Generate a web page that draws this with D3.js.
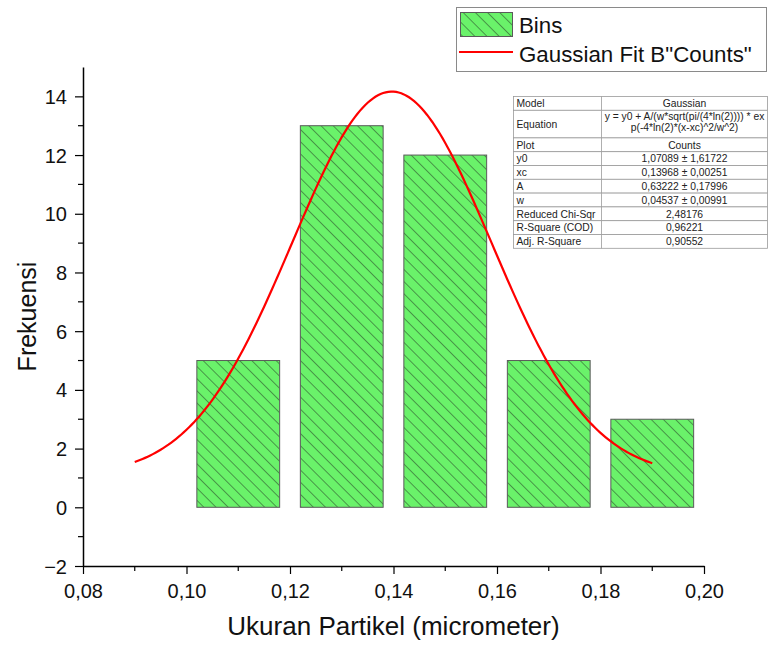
<!DOCTYPE html>
<html>
<head>
<meta charset="utf-8">
<script src="https://cdn.jsdelivr.net/npm/d3@7/dist/d3.min.js"></script>
<style>
  html, body { margin: 0; padding: 0; background: #fff; }
  svg { display: block; font-family: "Liberation Sans", Arial, sans-serif; }
</style>
</head>
<body>
<svg id="chart" width="768" height="648"></svg>
<script>
// Histogram bins (centre, count) and bin width
const binCenters = [0.11, 0.13, 0.15, 0.17, 0.19];
const binCounts = [5, 13, 12, 5, 3];
const barWidth = 0.016;

// Gaussian fit parameters: [name, value, error]
const fitParams = [
  ["y0", 1.07089, 1.61722],
  ["xc", 0.13968, 0.00251],
  ["A", 0.63222, 0.17996],
  ["w", 0.04537, 0.00991]
];
const fitRange = [0.09, 0.19];
const fitStats = [
  ["Reduced Chi-Sqr", "2,48176"],
  ["R-Square (COD)", "0,96221"],
  ["Adj. R-Square", "0,90552"]
];

const xTicks = [0.08, 0.10, 0.12, 0.14, 0.16, 0.18, 0.20];
const yTicks = [-2, 0, 2, 4, 6, 8, 10, 12, 14];

const svg = d3.select("#chart");

const x = d3.scaleLinear().domain([0.08, 0.20]).range([83, 704]);
const y = d3.scaleLinear().domain([-2, 15]).range([566, 67]);

const comma = v => d3.format(".2f")(v).replace(".", ",");

// Hatch pattern for the bars
const defs = svg.append("defs");
function hatch(id, spacing) {
  const p = defs.append("pattern")
    .attr("id", id)
    .attr("patternUnits", "userSpaceOnUse")
    .attr("width", spacing).attr("height", spacing)
    .attr("patternTransform", "rotate(-45)");
  p.append("rect").attr("width", spacing).attr("height", spacing).attr("fill", "#6af26a");
  p.append("line").attr("x1", 0).attr("y1", 0).attr("x2", 0).attr("y2", spacing)
    .attr("stroke", "#2a4a2a").attr("stroke-width", 1.1);
}
hatch("hatch", 8.6);

// Bars
svg.append("g").selectAll("rect")
  .data(binCenters.map((c, i) => ({ c, v: binCounts[i] })))
  .join("rect")
  .attr("x", d => x(d.c - barWidth / 2))
  .attr("width", d => x(d.c + barWidth / 2) - x(d.c - barWidth / 2))
  .attr("y", d => y(d.v))
  .attr("height", d => y(0) - y(d.v))
  .attr("fill", "url(#hatch)")
  .attr("stroke", "#5a5a5a")
  .attr("stroke-width", 1);

// Fitted Gaussian curve from the stated parameters
const P = Object.fromEntries(fitParams.map(p => [p[0], p[1]]));
const gauss = xv => P.y0 + P.A / (P.w * Math.sqrt(Math.PI / (4 * Math.LN2))) *
  Math.exp(-4 * Math.LN2 * (xv - P.xc) ** 2 / (P.w * P.w));
const curveX = d3.range(fitRange[0], fitRange[1] + 1e-9, 0.0005);
svg.append("path")
  .datum(curveX)
  .attr("fill", "none")
  .attr("stroke", "#ff0000")
  .attr("stroke-width", 2.2)
  .attr("d", d3.line().x(d => x(d)).y(d => y(gauss(d))));

// Axes
const xAxis = svg.append("g").attr("transform", `translate(0,${y(-2)})`);
xAxis.call(d3.axisBottom(x).tickValues(xTicks).tickFormat(comma).tickSize(8).tickSizeOuter(0));
xAxis.append("g").selectAll("line")
  .data(d3.range(0.09, 0.2, 0.02))
  .join("line")
  .attr("x1", d => x(d)).attr("x2", d => x(d)).attr("y1", 0).attr("y2", 5)
  .attr("stroke", "#000").attr("stroke-width", 1.2);

const yAxis = svg.append("g").attr("transform", `translate(${x(0.08)},0)`);
yAxis.call(d3.axisLeft(y).tickValues(yTicks).tickSize(8).tickSizeOuter(0));
yAxis.append("g").selectAll("line")
  .data(d3.range(-1, 15, 2))
  .join("line")
  .attr("x1", 0).attr("x2", -5).attr("y1", d => y(d)).attr("y2", d => y(d))
  .attr("stroke", "#000").attr("stroke-width", 1.2);

[xAxis, yAxis].forEach(g => {
  g.select(".domain").attr("stroke", "#000").attr("stroke-width", 1.5);
  g.selectAll(".tick line").attr("stroke", "#000").attr("stroke-width", 1.2);
  g.selectAll(".tick text").attr("font-size", 20).attr("fill", "#111")
    .attr("font-family", "Liberation Sans, Arial, sans-serif");
});
xAxis.selectAll(".tick text").attr("y", 11).attr("dy", "1.05em");
yAxis.selectAll(".tick text").attr("x", -16).attr("dy", "0.35em");

// Axis titles
svg.append("text")
  .attr("x", x(0.14)).attr("y", 635)
  .attr("text-anchor", "middle").attr("font-size", 26).attr("fill", "#111")
  .text("Ukuran Partikel (micrometer)");
svg.append("text")
  .attr("transform", `translate(36,${y(6.5)}) rotate(-90)`)
  .attr("text-anchor", "middle").attr("font-size", 25).attr("fill", "#111")
  .text("Frekuensi");

// Legend
const lg = svg.append("g");
lg.append("rect").attr("x", 456.5).attr("y", 7.5).attr("width", 310).attr("height", 64)
  .attr("fill", "#fff").attr("stroke", "#8a8a8a").attr("stroke-width", 1);
lg.append("rect").attr("x", 460.5).attr("y", 12.5).attr("width", 52).attr("height", 24)
  .attr("fill", "url(#hatch)").attr("stroke", "#5a5a5a");
lg.append("text").attr("x", 519).attr("y", 33).attr("font-size", 22.3).attr("fill", "#111").text("Bins");
lg.append("line").attr("x1", 459).attr("x2", 513).attr("y1", 52).attr("y2", 52)
  .attr("stroke", "#ff0000").attr("stroke-width", 2);
lg.append("text").attr("x", 519).attr("y", 62).attr("font-size", 22.3).attr("fill", "#111")
  .text('Gaussian Fit B"Counts"');

// Fit results table
const rows = [
  ["Model", ["Gaussian"], 1],
  ["Equation", ["y = y0 + A/(w*sqrt(pi/(4*ln(2)))) * ex", "p(-4*ln(2)*(x-xc)^2/w^2)"], 2],
  ["Plot", ["Counts"], 1],
  ...fitParams.map(p => [p[0], [`${p[1].toFixed(5).replace(".", ",")} \u00b1 ${p[2].toFixed(5).replace(".", ",")}`], 1]),
  ...fitStats.map(s => [s[0], [s[1]], 1])
];
const tb = svg.append("g");
const tLeft = 513.5, tMid = 601.5, tRight = 767.5, tTop = 96.5, unit = 13.8;
let cy = tTop;
rows.forEach(r => {
  const h = unit * r[2];
  tb.append("rect").attr("x", tLeft).attr("y", cy).attr("width", tRight - tLeft).attr("height", h)
    .attr("fill", "#fff").attr("stroke", "#9a9a9a").attr("stroke-width", 0.8);
  tb.append("line").attr("x1", tMid).attr("x2", tMid).attr("y1", cy).attr("y2", cy + h)
    .attr("stroke", "#9a9a9a").attr("stroke-width", 0.8);
  tb.append("text").attr("x", tLeft + 3).attr("y", cy + h / 2 + 3.7)
    .attr("font-size", 10.3).attr("fill", "#222").text(r[0]);
  r[1].forEach((t, i) => {
    tb.append("text").attr("x", (tMid + tRight) / 2)
      .attr("y", cy + unit / 2 + 3.7 + i * 10.5 - (r[1].length - 1) * 0.8)
      .attr("text-anchor", "middle").attr("font-size", 10.3).attr("fill", "#222").text(t);
  });
  cy += h;
});
</script>
</body>
</html>
